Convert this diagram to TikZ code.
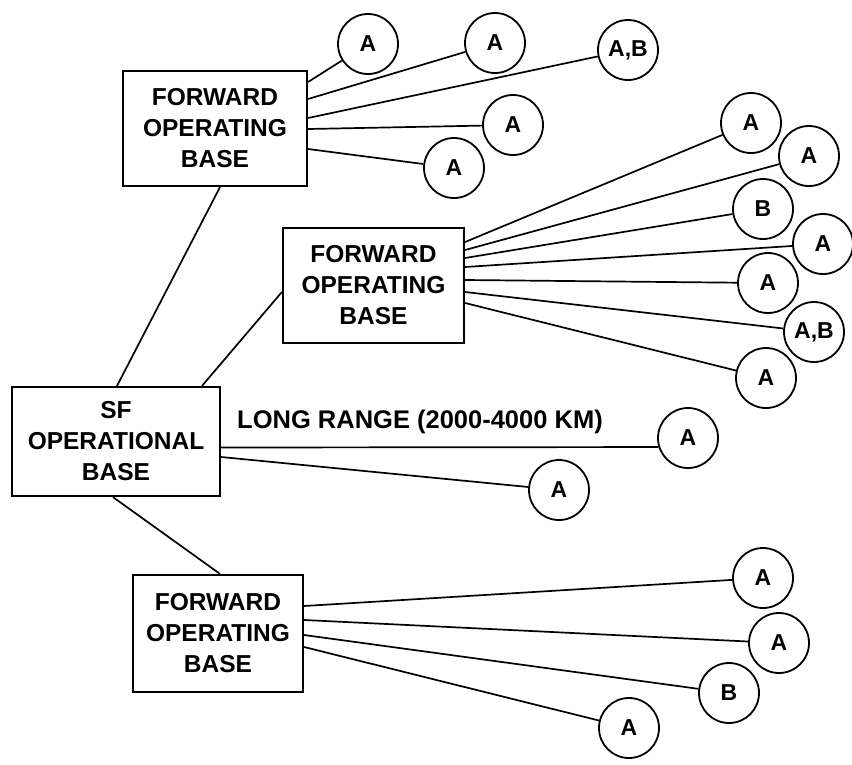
\documentclass[tikz,border=0pt]{standalone}
\usepackage{fontspec}
\setmainfont{Liberation Sans}
\begin{document}
\begin{tikzpicture}[x=1pt,y=-1pt,
  base/.style={draw,line width=2.2pt,inner sep=0pt,align=center,
    font=\fontsize{24.5}{31}\selectfont\bfseries},
  site/.style={draw,circle,line width=1.8pt,minimum size=60pt,inner sep=0pt,
    font=\fontsize{23}{24}\selectfont\bfseries},
  link/.style={line width=1.7pt}]
\useasboundingbox (0,0) rectangle (852,764);
% bases
\node[base,minimum width=184pt,minimum height=115pt] (fob1) at (215,128.5) {FORWARD\\OPERATING\\BASE};
\node[base,minimum width=181pt,minimum height=115pt] (fob2) at (373.5,285.5) {FORWARD\\OPERATING\\BASE};
\node[base,minimum width=208pt,minimum height=109pt] (sf) at (116,441.5) {SF\\OPERATIONAL\\BASE};
\node[base,minimum width=170pt,minimum height=117pt] (fob3) at (218,633.5) {FORWARD\\OPERATING\\BASE};
% sites of the first base
\node[site] (t1) at (368,44) {A};
\node[site] (t2) at (495,43) {A};
\node[site] (t3) at (628,50) {A,B};
\node[site] (t4) at (513,125) {A};
\node[site] (t5) at (454,168) {A};
% sites of the second base
\node[site] (m1) at (751,123) {A};
\node[site] (m2) at (809,156) {A};
\node[site] (m3) at (763,209) {B};
\node[site] (m4) at (823,244) {A};
\node[site] (m5) at (768,283) {A};
\node[site] (m6) at (814,332) {A,B};
\node[site] (m7) at (766,378) {A};
% sites of the operational base
\node[site] (s1) at (688,438) {A};
\node[site] (s2) at (559,490) {A};
% sites of the third base
\node[site] (b1) at (763,578) {A};
\node[site] (b2) at (779,643) {A};
\node[site] (b3) at (729,693) {B};
\node[site] (b4) at (629,728) {A};
% label
\node[anchor=south west,inner sep=0pt,font=\fontsize{25.5}{26}\selectfont\bfseries] (lr) at (237,434) {LONG RANGE (2000-4000 KM)};
% connectors between bases
\draw[link] ([xshift=1pt]sf.north) -- ([xshift=5pt]fob1.south);
\draw[link] ([xshift=86pt]sf.north) -- ([yshift=-6.5pt]fob2.west);
\draw[link] ([xshift=-3pt]sf.south) -- ([xshift=2pt]fob3.north);
% first base
\draw[link] ([yshift=46.5pt]fob1.east) -- (t1);
\draw[link] ([yshift=29.5pt]fob1.east) -- (t2);
\draw[link] ([yshift=10.5pt]fob1.east) -- (t3);
\draw[link] ([yshift=-0.5pt]fob1.east) -- (t4);
\draw[link] ([yshift=-20.5pt]fob1.east) -- (t5);
% second base
\draw[link] ([yshift=43.5pt]fob2.east) -- (m1);
\draw[link] ([yshift=35.5pt]fob2.east) -- (m2);
\draw[link] ([yshift=27.5pt]fob2.east) -- (m3);
\draw[link] ([yshift=18.5pt]fob2.east) -- (m4);
\draw[link] ([yshift=5.5pt]fob2.east) -- (m5);
\draw[link] ([yshift=-6.5pt]fob2.east) -- (m6);
\draw[link] ([yshift=-17.5pt]fob2.east) -- (m7);
% operational base
\draw[link] ([yshift=-6pt]sf.east) -- (s1.197);
\draw[link] ([yshift=-15.5pt]sf.east) -- (s2);
% third base
\draw[link] ([yshift=27.5pt]fob3.east) -- (b1);
\draw[link] ([yshift=13.5pt]fob3.east) -- (b2);
\draw[link] ([yshift=-1.5pt]fob3.east) -- (b3);
\draw[link] ([yshift=-13.5pt]fob3.east) -- (b4);
\end{tikzpicture}
\end{document}
